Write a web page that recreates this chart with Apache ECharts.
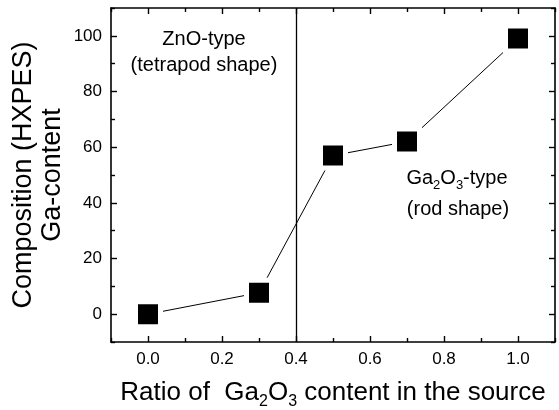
<!DOCTYPE html>
<html>
<head>
<meta charset="utf-8">
<script src="https://cdn.jsdelivr.net/npm/echarts@6/dist/echarts.min.js"></script>
<style>html,body{margin:0;padding:0;background:#fff;}#c{width:559px;height:410px;}</style>
</head>
<body>
<div id="c"></div>
<script>
// ---- data ----
var ratio = [0.0, 0.3, 0.5, 0.7, 1.0];
var gaContent = [0, 7.7, 57, 62, 99];
var dividerX = [0.4];
var xMajorTicks = [0.0, 0.2, 0.4, 0.6, 0.8, 1.0];
var xMinorTicks = [-0.1, 0.1, 0.3, 0.5, 0.7, 0.9, 1.1];
var yMajorTicks = [0, 20, 40, 60, 80, 100];
var yMinorTicks = [-10, 10, 30, 50, 70, 90, 110];
var xRange = [-0.1, 1.1];
var yRange = [-10, 110];

var FONT = '"Liberation Sans", Arial, sans-serif';
var chart = echarts.init(document.getElementById('c'), null, {renderer: 'canvas'});

function xAx(pos, ticks, len, showLine, showLabel) {
  return {
    type: 'value', position: pos, min: xRange[0], max: xRange[1],
    axisLine: {show: showLine, onZero: false, lineStyle: {color: '#000', width: 1.6}},
    axisTick: {show: true, inside: true, length: len, customValues: ticks, lineStyle: {color: '#000', width: 1.4}},
    axisLabel: {show: showLabel, customValues: ticks, margin: 9, color: '#000', fontFamily: FONT, fontSize: 17,
      formatter: function (v) { return v.toFixed(1); }},
    splitLine: {show: false}
  };
}
function yAx(pos, ticks, len, showLine, showLabel) {
  return {
    type: 'value', position: pos, min: yRange[0], max: yRange[1],
    axisLine: {show: showLine, onZero: false, lineStyle: {color: '#000', width: 1.6}},
    axisTick: {show: true, inside: true, length: len, customValues: ticks, lineStyle: {color: '#000', width: 1.4}},
    axisLabel: {show: showLabel, customValues: ticks, margin: 9, color: '#000', fontFamily: FONT, fontSize: 17},
    splitLine: {show: false}
  };
}

var xMain = xAx('bottom', xMajorTicks, 6, true, true);
xMain.name = '{t|Ratio of  Ga}{s|2}{t|O}{s|3}{t| content in the source}';
xMain.nameLocation = 'middle';
xMain.nameGap = 34;
xMain.nameMoveOverlap = false;
xMain.nameTextStyle = {
  rich: {
    t: {fontFamily: FONT, fontSize: 26, color: '#000'},
    s: {fontFamily: FONT, fontSize: 16, color: '#000', verticalAlign: 'bottom', padding: [18, 0, 0, 0]}
  }
};

var yMain = yAx('left', yMajorTicks, 6, true, true);
yMain.name = 'Composition (HXPES)\nGa-content';
yMain.nameLocation = 'middle';
yMain.nameRotate = 90;
yMain.nameGap = 44;
yMain.nameMoveOverlap = false;
yMain.nameTextStyle = {fontFamily: FONT, fontSize: 27, color: '#000', lineHeight: 29};

var option = {
  backgroundColor: '#fff',
  animation: false,
  grid: {left: 111, right: 4, top: 8, bottom: 68, containLabel: false, outerBoundsMode: 'none'},
  xAxis: [
    xMain,
    xAx('bottom', xMinorTicks, 4, false, false),
    xAx('top', xMajorTicks, 6, true, false),
    xAx('top', xMinorTicks, 4, false, false)
  ],
  yAxis: [
    yMain,
    yAx('left', yMinorTicks, 4, false, false),
    yAx('right', yMajorTicks, 6, true, false),
    yAx('right', yMinorTicks, 4, false, false)
  ],
  series: [{
    type: 'line',
    xAxisIndex: 0, yAxisIndex: 0,
    data: ratio.map(function (x, i) { return [x, gaContent[i]]; }),
    symbol: 'rect',
    symbolSize: 25,
    itemStyle: {color: '#000', borderColor: '#fff', borderWidth: 5},
    lineStyle: {color: '#000', width: 1},
    z: 3,
    markLine: {
      silent: true, symbol: 'none', label: {show: false},
      lineStyle: {color: '#000', width: 1.3, type: 'solid'},
      data: dividerX.map(function (v) { return {xAxis: v}; })
    }
  }],
  graphic: [
    {type: 'text', x: 204, y: 39,
      style: {text: 'ZnO-type', fontFamily: FONT, fontSize: 20, fill: '#000', align: 'center', verticalAlign: 'middle'}},
    {type: 'text', x: 204, y: 65,
      style: {text: '(tetrapod shape)', fontFamily: FONT, fontSize: 20, fill: '#000', align: 'center', verticalAlign: 'middle'}},
    {type: 'text', x: 457, y: 178,
      style: {text: '{t|Ga}{s|2}{t|O}{s|3}{t|-type}', align: 'center', verticalAlign: 'middle',
        rich: {
          t: {fontFamily: FONT, fontSize: 20, fill: '#000'},
          s: {fontFamily: FONT, fontSize: 13, fill: '#000', verticalAlign: 'bottom', padding: [14, 0, 0, 0]}
        }}},
    {type: 'text', x: 458, y: 209,
      style: {text: '(rod shape)', fontFamily: FONT, fontSize: 20, fill: '#000', align: 'center', verticalAlign: 'middle'}}
  ]
};
chart.setOption(option);
</script>
</body>
</html>
